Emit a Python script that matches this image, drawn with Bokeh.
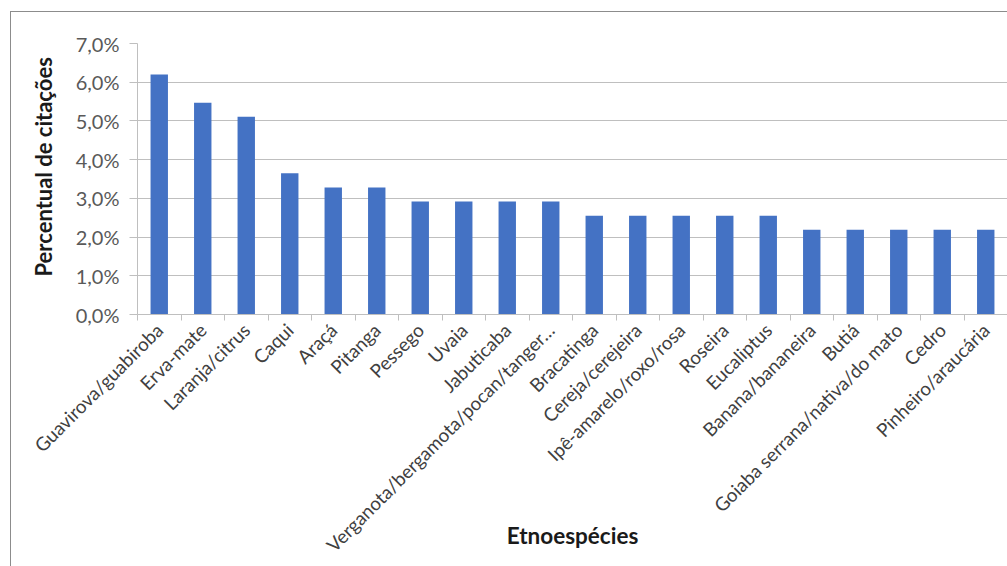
import math
from bokeh.plotting import figure
from bokeh.models import FixedTicker, Range1d, Title
from bokeh.embed import file_html
from bokeh.resources import INLINE

# Etnoespécies and their share of citations (%)
especies = [
    "Guavirova/guabiroba", "Erva-mate", "Laranja/citrus", "Caqui", "Araçá",
    "Pitanga", "Pessego", "Uvaia", "Jabuticaba",
    "Verganota/bergamota/pocan/tanger…", "Bracatinga", "Cereja/cerejeira",
    "Ipê-amarelo/roxo/rosa", "Roseira", "Eucaliptus", "Banana/bananeira",
    "Butiá", "Goiaba serrana/nativa/do mato", "Cedro", "Pinheiro/araucária",
]
percentual = [6.20, 5.47, 5.11, 3.65, 3.28, 3.28, 2.92, 2.92, 2.92, 2.92,
              2.55, 2.55, 2.55, 2.55, 2.55, 2.19, 2.19, 2.19, 2.19, 2.19]
y_ticks = [0, 1, 2, 3, 4, 5, 6, 7]
y_tick_labels = ["0,0%", "1,0%", "2,0%", "3,0%", "4,0%", "5,0%", "6,0%", "7,0%"]

FONT = "Lato"
BAR = "#4472C4"
GRID = "#BFBFBF"
TICK_TXT = "#595959"

n = len(especies)
centers = [i + 0.5 for i in range(n)]

p = figure(
    width=997, height=555,
    x_range=Range1d(0, n), y_range=Range1d(0, 7),
    output_backend="svg", toolbar_location=None,
    min_border_left=126, min_border_right=1,
    min_border_top=31, min_border_bottom=253,
)
p.margin = (11, 0, 0, 10)
p.styles = {"border-left": "1px solid #8C8C8C", "border-top": "1px solid #8C8C8C"}
p.outline_line_color = None
p.background_fill_color = "white"
p.border_fill_color = "white"

p.vbar(x=centers, top=percentual, width=0.4, fill_color=BAR, line_color=None)

# x axis: category boundaries as tick marks, names at the centres
xa = p.xaxis[0]
xa.ticker = FixedTicker(ticks=centers, minor_ticks=list(range(n + 1)))
xa.major_label_overrides = {c: s for c, s in zip(centers, especies)}
xa.major_label_orientation = math.pi / 4
xa.major_tick_out = 0
xa.major_tick_in = 0
xa.minor_tick_out = 6
xa.minor_tick_in = 0
xa.minor_tick_line_color = GRID
xa.axis_line_color = GRID
xa.major_label_text_font = FONT
xa.major_label_text_font_size = "18.8px"
xa.major_label_text_color = "#404040"
xa.major_label_standoff = 6
xa.axis_label = "Etnoespécies"
xa.axis_label_text_font = FONT
xa.axis_label_text_font_size = "22.5px"
xa.axis_label_text_font_style = "bold"
xa.axis_label_text_color = "#1a1a1a"
xa.axis_label_standoff = -45

# y axis: percentages with decimal comma
ya = p.yaxis[0]
ya.ticker = FixedTicker(ticks=y_ticks)
ya.major_label_overrides = {t: s for t, s in zip(y_ticks, y_tick_labels)}
ya.minor_tick_line_color = None
ya.major_tick_out = 8
ya.major_tick_in = 0
ya.major_tick_line_color = GRID
ya.axis_line_color = GRID
ya.major_label_text_font = FONT
ya.major_label_text_font_size = "20px"
ya.major_label_text_color = TICK_TXT
ya.major_label_standoff = 10

# vertical axis title, starting a little above the plot's bottom
p.add_layout(Title(
    text="Percentual de citações", align="left", offset=38, standoff=31,
    text_font=FONT, text_font_size="22px", text_font_style="bold",
    text_color="#1a1a1a",
), "left")

p.xgrid.grid_line_color = None
p.ygrid.grid_line_color = GRID
p.ygrid.grid_line_width = 1

open("out.html", "w").write(file_html(p, INLINE))
